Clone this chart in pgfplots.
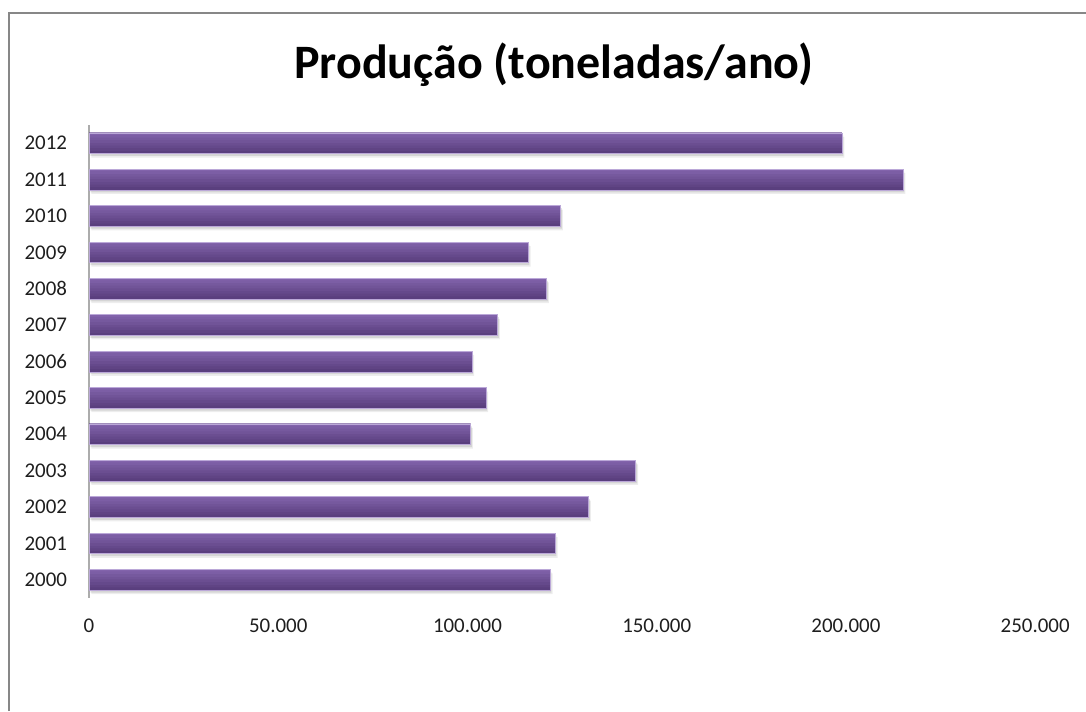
\documentclass[border=0pt]{standalone}
\usepackage{pgfplots}
\pgfplotsset{compat=1.18}
\usepackage{fontspec}
\setmainfont{Carlito}
\definecolor{barTop}{HTML}{8263AB}
\definecolor{barBot}{HTML}{5A3F7E}
\definecolor{barEdge}{HTML}{BBA8D8}
\definecolor{frameGray}{HTML}{878787}
\definecolor{txt}{HTML}{1E1E1E}
\pgfplotstableread{
y val
0 121830
1 123150
2 131970
3 144460
4 100810
5 104850
6 101150
7 107940
8 120880
9 116020
10 124580
11 215060
12 198950
}\prodtable
\pgfplotsset{lay/.style={xbar, draw=none, forget plot}}
\begin{document}
\begin{tikzpicture}
\useasboundingbox (0,0) rectangle (814.5pt,533.25pt);
\draw[frameGray, line width=1.5pt] (6.4pt,0) -- (6.4pt,523.3pt) -- (820pt,523.3pt);
\node[anchor=base, font=\fontsize{36}{42}\selectfont\bfseries, inner sep=0pt] at (415.5pt,474.5pt) {Produção (toneladas/ano)};
\begin{axis}[
  at={(66.75pt,84.75pt)}, anchor=south west,
  scale only axis, width=709.65pt, height=354.75pt,
  xmin=0, xmax=250000, ymin=-0.5, ymax=12.5,
  axis lines=left,
  axis line style={-},
  x axis line style={draw=none},
  y axis line style={draw=gray!65, line width=0.9pt},
  major tick length=0pt,
  tick style={draw=none},
  xtick={0,50000,100000,150000,200000,250000},
  xticklabels={0,50.000,100.000,150.000,200.000,250.000},
  scaled x ticks=false,
  ytick={0,...,12},
  yticklabels={2000,2001,2002,2003,2004,2005,2006,2007,2008,2009,2010,2011,2012},
  ticklabel style={font=\fontsize{15.7}{18}\selectfont, text=txt, inner sep=0pt},
  xticklabel style={anchor=north, yshift=-15.75pt},
  yticklabel style={anchor=east, xshift=-16.3pt},
  clip=false,
]
% soft shadow
\addplot[lay, bar width=15.5pt, bar shift=-3.0pt, fill=black, fill opacity=0.07, xshift=1.8pt] table[x=val, y=y] {\prodtable};
\addplot[lay, bar width=15.5pt, bar shift=-1.8pt, fill=black, fill opacity=0.10, xshift=1.0pt] table[x=val, y=y] {\prodtable};
% bar body, built up in bands from dark bottom to light top
\addplot[lay, bar width=15.5pt, bar shift=0pt,   fill=barBot] table[x=val, y=y] {\prodtable};
\addplot[lay, bar width=13.5pt, bar shift=1.0pt, fill=barTop!14!barBot] table[x=val, y=y] {\prodtable};
\addplot[lay, bar width=11.5pt, bar shift=2.0pt, fill=barTop!28!barBot] table[x=val, y=y] {\prodtable};
\addplot[lay, bar width=9.5pt,  bar shift=3.0pt, fill=barTop!43!barBot] table[x=val, y=y] {\prodtable};
\addplot[lay, bar width=7.5pt,  bar shift=4.0pt, fill=barTop!57!barBot] table[x=val, y=y] {\prodtable};
\addplot[lay, bar width=5.5pt,  bar shift=5.0pt, fill=barTop!71!barBot] table[x=val, y=y] {\prodtable};
\addplot[lay, bar width=3.5pt,  bar shift=6.0pt, fill=barTop!86!barBot] table[x=val, y=y] {\prodtable};
\addplot[lay, bar width=1.5pt,  bar shift=7.0pt, fill=barTop] table[x=val, y=y] {\prodtable};
% thin light edge
\addplot[xbar, bar width=15.5pt, draw=barEdge, line width=0.45pt, fill=none] table[x=val, y=y] {\prodtable};
\end{axis}
\end{tikzpicture}
\end{document}
